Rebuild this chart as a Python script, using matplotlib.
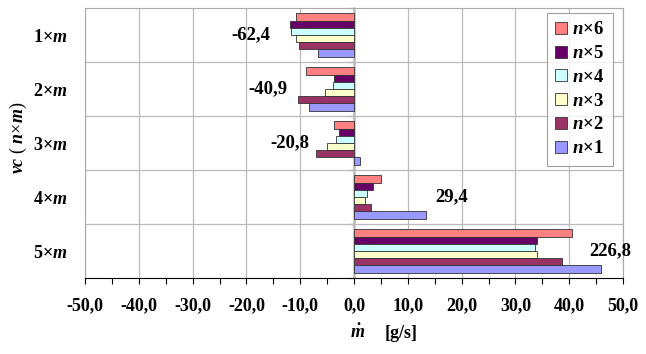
import numpy as np
import matplotlib.pyplot as plt

plt.rcParams['font.family'] = ['Liberation Serif', 'DejaVu Serif']
plt.rcParams['font.weight'] = 'bold'
plt.rcParams['mathtext.fontset'] = 'custom'
plt.rcParams['mathtext.it'] = 'Liberation Serif:italic:bold'
plt.rcParams['mathtext.rm'] = 'Liberation Serif:bold'
plt.rcParams['mathtext.bf'] = 'Liberation Serif:bold'

# data: mass flow [g/s] per configuration, series n x 6 ... n x 1
categories = ['1×$m$', '2×$m$', '3×$m$', '4×$m$', '5×$m$']
series_names = ['$n$×6', '$n$×5', '$n$×4', '$n$×3', '$n$×2', '$n$×1']
n6 = [-10.7, -9.0, -3.8, 5.1, 40.6]
n5 = [-11.9, -3.8, -2.8, 3.5, 34.0]
n4 = [-11.8, -3.9, -3.3, 2.4, 33.6]
n3 = [-10.7, -5.4, -5.1, 2.0, 34.0]
n2 = [-10.2, -10.4, -7.0, 3.1, 38.6]
n1 = [-6.6, -8.4, 1.2, 13.3, 46.0]
totals = ['-62,4', '-40,9', '-20,8', '29,4', '226,8']

colors = ['#FF8080', '#660066', '#CCFFFF', '#FFFFCC', '#993366', '#9999FF']
label_x = [-19.1, -16.0, -11.9, 18.2, 47.6]  # where the total labels sit

fig = plt.figure(figsize=(6.46, 3.54), dpi=100)
ax = fig.add_axes([85 / 646, 1 - 278 / 354, 538 / 646, 270 / 354])

all_series = [n6, n5, n4, n3, n2, n1]
y = np.arange(len(categories))
bh = 0.8 / len(all_series)
for j, (vals, name, c) in enumerate(zip(all_series, series_names, colors)):
    ax.barh(y - 0.4 + bh * (j + 0.5), vals, height=bh, color=c,
            edgecolor='#333333', linewidth=0.6, label=name, zorder=3)

for i, t in enumerate(totals):
    ax.text(label_x[i], i, t, ha='center', va='center', fontsize=13.5,
            fontweight='bold', clip_on=False, zorder=5)

ax.set_xlim(-50, 50)
ax.set_ylim(len(categories) - 0.5, -0.5)

ax.set_xticks(np.arange(-50, 51, 10))
ax.set_xticklabels([f'{v:.1f}'.replace('.', ',') for v in np.arange(-50, 51, 10)])
ax.set_xticks(np.arange(-45, 50, 10), minor=True)
ax.tick_params(axis='x', which='both', direction='out', length=4, width=0.8,
               pad=10, labelsize=13)

ax.set_yticks(np.arange(0.5, len(categories) - 0.5, 1))
ax.set_yticklabels([])
ax.set_yticks(y, minor=True)
ax.set_yticklabels(categories, minor=True)
ax.tick_params(axis='y', which='both', length=0, pad=13, labelsize=13)

ax.grid(True, which='major', color='#BBBBBB', linewidth=0.9, zorder=0)
ax.set_axisbelow(True)
for s in ['left', 'top', 'right']:
    ax.spines[s].set_color('#AAAAAA')
ax.spines['bottom'].set_color('black')

# category axis crossing at zero
sec = ax.secondary_yaxis(0.5)
sec.set_alignment('left')
sec.set_yticks(np.arange(-0.5, len(categories), 1))
sec.tick_params(axis='y', direction='out', length=4, width=0.8, labelleft=False,
                labelright=False)
sec.spines['left'].set_color('black')
sec.spines['left'].set_linewidth(1.0)

ax.set_ylabel('$vc$ ( $n$×$m$)', fontsize=13)
ax.yaxis.set_label_coords(-0.105, 0.52)
fig.text(358 / 646, 1 - 333 / 354, r'$\dot{m}$', ha='center', va='center',
         fontsize=13)
fig.text(385 / 646, 1 - 333 / 354, '[g/s]', ha='left', va='center',
         fontsize=13)

leg = ax.legend(loc='upper left', bbox_to_anchor=(547 / 646, 1 - 13 / 354),
                bbox_transform=fig.transFigure, fontsize=13.5, frameon=True,
                fancybox=False, edgecolor='#888888', handlelength=0.6,
                handleheight=0.6, handletextpad=0.3, labelspacing=0.36,
                borderpad=0.45, borderaxespad=0)
leg.get_frame().set_linewidth(0.8)

plt.savefig('out.png', dpi=100, facecolor='white')
